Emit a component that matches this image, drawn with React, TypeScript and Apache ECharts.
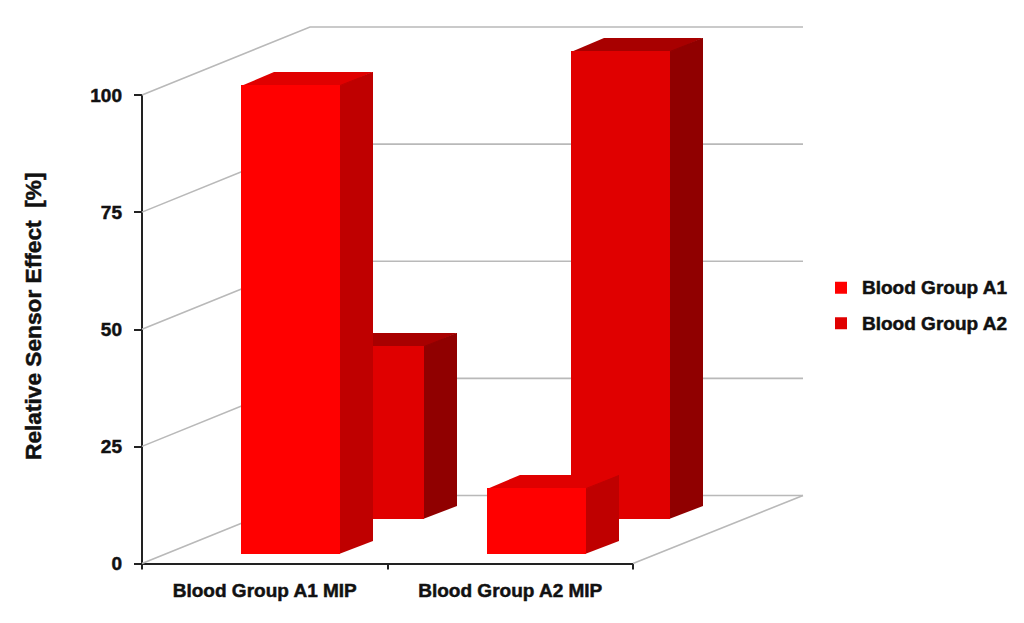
import React, { useEffect, useRef } from "react";
import * as echarts from "echarts";

const categories = ["Blood Group A1 MIP", "Blood Group A2 MIP"];
const seriesNames = ["Blood Group A1", "Blood Group A2"];
const groupA1 = [100, 14];
const groupA2 = [37, 100];
const valueTicks = [0, 25, 50, 75, 100];
const yTitle = "Relative Sensor Effect  [%]";

const FONT = "'Liberation Sans', Arial, sans-serif";
const INK = "#111111";
const WALL = "#b9b9b9";
const HEAVY = { textBorderColor: INK, textBorderWidth: 0.5 };

const renderWalls = (params: any, api: any) => {
  const cs = params.coordSys;
  const v = api.value(1);
  const p = api.coord([0, v]);
  const x0 = cs.x;
  const y0 = p[1];
  const dx = 168;
  const dy = -68;
  const xEnd = x0 + cs.width + 170;
  const children: any[] = [
    {
      type: "polyline",
      shape: { points: [[x0, y0], [x0 + dx, y0 + dy], [xEnd, y0 + dy]] },
      style: { fill: "none", stroke: WALL, lineWidth: 1.6 },
    },
  ];
  if (v === 0) {
    children.push({
      type: "line",
      shape: { x1: xEnd, y1: y0 + dy, x2: x0 + cs.width, y2: y0 },
      style: { stroke: WALL, lineWidth: 1.6 },
    });
  }
  return { type: "group", children };
};

const makeBox = (
  offsetX: number,
  offsetY: number,
  front: string,
  top: string,
  side: string
) => (_params: any, api: any) => {
  const cat = api.value(0);
  const t = api.coord([cat, api.value(1)]);
  const b = api.coord([cat, 0]);
  const l = Math.round(t[0] + offsetX - 49.5);
  const r = l + 99;
  const yt = Math.round(t[1] + offsetY);
  const yb = Math.round(b[1] + offsetY);
  const ddx = 33;
  const ddy = -13;
  return {
    type: "group",
    children: [
      {
        type: "polygon",
        shape: {
          points: [[r - 1, yt], [r + ddx, yt + ddy], [r + ddx, yb + ddy], [r - 1, yb]],
        },
        style: { fill: side },
      },
      {
        type: "polygon",
        shape: { points: [[l, yt + 1], [l + ddx, yt + ddy], [r + ddx, yt + ddy], [r, yt + 1]] },
        style: { fill: top },
      },
      {
        type: "polygon",
        shape: { points: [[r, yt], [r + ddx, yt + ddy], [r + ddx, yt + ddy + 1], [r, yt + 1]] },
        style: { fill: side },
      },
      {
        type: "rect",
        shape: { x: l, y: yt, width: r - l, height: yb - yt },
        style: { fill: front },
      },
    ],
  };
};

export default function App() {
  const ref = useRef<HTMLDivElement>(null);
  useEffect(() => {
    const chart = echarts.init(ref.current!, null, { renderer: "svg" });
    chart.setOption({
      animation: false,
      backgroundColor: "#ffffff",
      grid: { left: 142, top: 95, width: 491, height: 468.5, containLabel: false },
      legend: {
        left: 830,
        top: 273,
        orient: "vertical",
        data: seriesNames,
        icon: "rect",
        itemWidth: 12,
        itemHeight: 12,
        itemGap: 16,
        textStyle: {
          fontFamily: FONT,
          fontWeight: "bold",
          fontSize: 19,
          color: INK,
          padding: [0, 0, 0, 10],
          ...HEAVY,
        },
      },
      xAxis: {
        type: "category",
        data: categories,
        axisLine: { lineStyle: { color: "#222222", width: 2 } },
        axisTick: { show: true, length: 6, lineStyle: { color: "#222222", width: 2 } },
        axisLabel: {
          interval: 0,
          margin: 17,
          fontFamily: FONT,
          fontWeight: "bold",
          fontSize: 19,
          color: INK,
          ...HEAVY,
        },
      },
      yAxis: {
        type: "value",
        min: 0,
        max: 100,
        interval: 25,
        name: yTitle,
        nameLocation: "middle",
        nameGap: 98,
        nameTextStyle: {
          fontFamily: FONT,
          fontWeight: "bold",
          fontSize: 22.7,
          color: INK,
          padding: [0, 0, 0, 26],
          ...HEAVY,
        },
        splitLine: { show: false },
        axisLine: { show: true, lineStyle: { color: "#222222", width: 2 } },
        axisTick: { show: true, length: 8, lineStyle: { color: "#222222", width: 2 } },
        axisLabel: {
          margin: 20,
          fontFamily: FONT,
          fontWeight: "bold",
          fontSize: 19,
          color: INK,
          ...HEAVY,
        },
      },
      series: [
        {
          type: "custom",
          name: "walls",
          clip: false,
          silent: true,
          renderItem: renderWalls,
          encode: { x: 0, y: 1 },
          data: valueTicks.map((v) => [0, v]),
        },
        {
          type: "custom",
          name: seriesNames[1],
          clip: false,
          itemStyle: { color: "#e00000" },
          renderItem: makeBox(110, -44.5, "#e00000", "#a80000", "#900000"),
          encode: { x: 0, y: 1 },
          data: groupA2.map((v, i) => [i, v]),
        },
        {
          type: "custom",
          name: seriesNames[0],
          clip: false,
          itemStyle: { color: "#ff0000" },
          renderItem: makeBox(26, -10, "#ff0000", "#e00000", "#bf0000"),
          encode: { x: 0, y: 1 },
          data: groupA1.map((v, i) => [i, v]),
        },
      ],
    });
    return () => chart.dispose();
  }, []);
  return (
    <div
      ref={ref}
      style={{ position: "absolute", left: 0, top: 0, width: 1024, height: 623 }}
    />
  );
}
